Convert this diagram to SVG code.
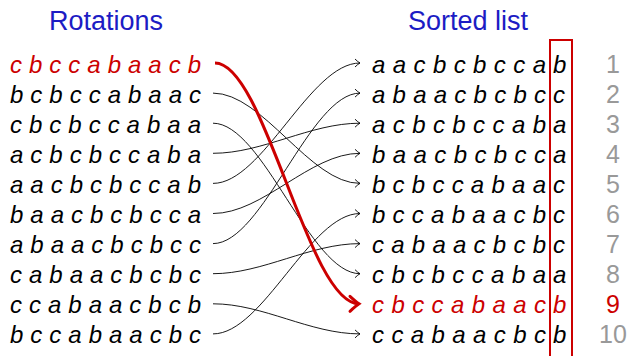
<svg xmlns="http://www.w3.org/2000/svg" width="628" height="356" viewBox="0 0 628 356">
<style>
.t{font-family:"Liberation Sans",Arial,sans-serif;font-size:27px;fill:#1c1cc4}
.r{font-family:"Liberation Sans",Arial,sans-serif;font-size:24px;font-style:italic;fill:#000}
.red{fill:#cc0000}
.n{font-family:"Liberation Sans",Arial,sans-serif;font-size:25px;fill:#999999;text-anchor:middle}
.c{fill:none;stroke:#000;stroke-width:0.9}
.rc{fill:none;stroke:#cc0000;stroke-width:3}
</style>
<defs>
<marker id="ah" markerUnits="userSpaceOnUse" markerWidth="12" markerHeight="12" refX="0" refY="0" orient="auto" overflow="visible">
<path d="M-5,-4 Q-2,-1 0,0 Q-2,1 -5,4" fill="none" stroke="#000" stroke-width="0.9"/>
</marker>
<marker id="rah" markerUnits="userSpaceOnUse" markerWidth="20" markerHeight="20" refX="0" refY="0" orient="auto" overflow="visible">
<path d="M-9,-7.5 Q-3,-2 0,0 Q-3,2 -9,7.5" fill="none" stroke="#cc0000" stroke-width="3" stroke-linecap="round"/>
</marker>
</defs>
<g id="titles">
<text class="t" x="106" y="30" text-anchor="middle">Rotations</text>
<text class="t" x="468" y="30" text-anchor="middle">Sorted list</text>
</g>
<g id="rotations">
<text class="r red" x="10" y="72.5" textLength="191" lengthAdjust="spacing">c b c c a b a a c b</text>
<text class="r" x="10" y="102.6" textLength="191" lengthAdjust="spacing">b c b c c a b a a c</text>
<text class="r" x="10" y="132.7" textLength="191" lengthAdjust="spacing">c b c b c c a b a a</text>
<text class="r" x="10" y="162.8" textLength="191" lengthAdjust="spacing">a c b c b c c a b a</text>
<text class="r" x="10" y="192.9" textLength="191" lengthAdjust="spacing">a a c b c b c c a b</text>
<text class="r" x="10" y="223" textLength="191" lengthAdjust="spacing">b a a c b c b c c a</text>
<text class="r" x="10" y="253.1" textLength="191" lengthAdjust="spacing">a b a a c b c b c c</text>
<text class="r" x="10" y="283.2" textLength="191" lengthAdjust="spacing">c a b a a c b c b c</text>
<text class="r" x="10" y="313.3" textLength="191" lengthAdjust="spacing">c c a b a a c b c b</text>
<text class="r" x="10" y="343.4" textLength="191" lengthAdjust="spacing">b c c a b a a c b c</text>
</g>
<g id="sorted">
<text class="r" x="372" y="72.5" textLength="174" lengthAdjust="spacing">a a c b c b c c a</text>
<text class="r" x="372" y="102.6" textLength="174" lengthAdjust="spacing">a b a a c b c b c</text>
<text class="r" x="372" y="132.7" textLength="174" lengthAdjust="spacing">a c b c b c c a b</text>
<text class="r" x="372" y="162.8" textLength="174" lengthAdjust="spacing">b a a c b c b c c</text>
<text class="r" x="372" y="192.9" textLength="174" lengthAdjust="spacing">b c b c c a b a a</text>
<text class="r" x="372" y="223" textLength="174" lengthAdjust="spacing">b c c a b a a c b</text>
<text class="r" x="372" y="253.1" textLength="174" lengthAdjust="spacing">c a b a a c b c b</text>
<text class="r" x="372" y="283.2" textLength="174" lengthAdjust="spacing">c b c b c c a b a</text>
<text class="r red" x="372" y="313.3" textLength="174" lengthAdjust="spacing">c b c c a b a a c</text>
<text class="r" x="372" y="343.4" textLength="174" lengthAdjust="spacing">c c a b a a c b c</text>
</g>
<g id="lastcolumn">
<rect x="550" y="40" width="22" height="330" fill="none" stroke="#cc0000" stroke-width="2"/>
<text class="r" x="553" y="72.5">b</text>
<text class="r" x="553" y="102.6">c</text>
<text class="r" x="553" y="132.7">a</text>
<text class="r" x="553" y="162.8">a</text>
<text class="r" x="553" y="192.9">c</text>
<text class="r" x="553" y="223">c</text>
<text class="r" x="553" y="253.1">c</text>
<text class="r" x="553" y="283.2">a</text>
<text class="r red" x="553" y="313.3">b</text>
<text class="r" x="553" y="343.4">b</text>
</g>
<g id="indices">
<text class="n" x="613" y="72.5">1</text>
<text class="n" x="613" y="102.6">2</text>
<text class="n" x="613" y="132.7">3</text>
<text class="n" x="613" y="162.8">4</text>
<text class="n" x="613" y="192.9">5</text>
<text class="n" x="613" y="223">6</text>
<text class="n" x="613" y="253.1">7</text>
<text class="n" x="613" y="283.2">8</text>
<text class="n" x="613" y="313.3" style="fill:#cc0000">9</text>
<text class="n" x="613" y="343.4">10</text>
</g>
<g id="connectors">
<path class="c" marker-end="url(#ah)" d="M213,93.1 C263,93.1 310,183.4 360,183.4"/>
<path class="c" marker-end="url(#ah)" d="M213,123.2 C263,123.2 310,273.7 360,273.7"/>
<path class="c" marker-end="url(#ah)" d="M213,153.3 C263,153.3 310,123.2 360,123.2"/>
<path class="c" marker-end="url(#ah)" d="M213,183.4 C263,183.4 310,63 360,63"/>
<path class="c" marker-end="url(#ah)" d="M213,213.5 C263,213.5 310,153.3 360,153.3"/>
<path class="c" marker-end="url(#ah)" d="M213,243.6 C263,243.6 310,93.1 360,93.1"/>
<path class="c" marker-end="url(#ah)" d="M213,273.7 C263,273.7 310,243.6 360,243.6"/>
<path class="c" marker-end="url(#ah)" d="M213,303.8 C263,303.8 310,333.9 360,333.9"/>
<path class="c" marker-end="url(#ah)" d="M213,333.9 C263,333.9 310,213.5 360,213.5"/>
<path class="rc" marker-end="url(#rah)" d="M215,63 C265,63 308,303.8 359,303.8"/>
</g>
</svg>
